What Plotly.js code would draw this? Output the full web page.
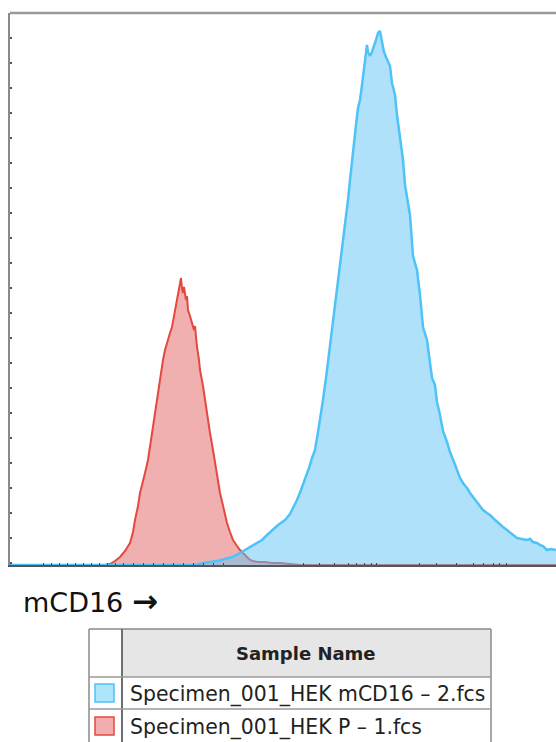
<!DOCTYPE html>
<html>
<head>
<meta charset="utf-8">
<script src="https://cdn.plot.ly/plotly-3.0.1.min.js"></script>
<style>
html,body{margin:0;padding:0;background:#fff;}
#chart{width:556px;height:742px;}
</style>
</head>
<body>
<div id="chart"></div>
<script>
// ---- data (channel units, counts) ----
const seriesNames = ["Specimen_001_HEK mCD16 – 2.fcs", "Specimen_001_HEK P – 1.fcs"];
const tableHeader = "Sample Name";
const axisLabel = "mCD16";
const axisArrow = "→";

const redX = [0,95,100,105,110,115,120,123,125,128,130,133,135,138,140,143,146,148,151,153,155,157,160,162,164,165,167,168,170,171,172,173,174,175,176,177,178,180,182,184,185,186,187,189,190,193,195,198,200,203,205,208,210,214,217,220,223,227,230,234,237,240,243,248,255,262,270,280,290,546];
const redY = [0,0,1,4,8,14,22,33,45,59,72,83,92,105,118,142,157,172,190,205,215,223,232,238,249,255,265,272,281,287,277,272,278,269,265,269,255,249,243,235,239,227,218,205,195,179,165,147,132,115,102,85,72,55,42,33,25,19,15,11,8,5,4,3,3,2,2,1,0,0];

const blueX = [0,185,193,200,207,215,222,230,235,240,245,252,257,262,268,275,280,284,287,291,295,299,302,305,308,311,313,316,318,320,323,326,329,332,335,338,340,343,346,348,350,352,354,356,357,358,360,362,364,366,368,370,372,374,376,378,380,382,385,387,390,393,395,397,400,403,407,410,413,417,420,422,425,427,430,433,437,440,444,447,450,453,457,460,465,469,473,477,480,484,487,490,493,497,502,507,512,517,520,523,527,530,533,537,541,546];
const blueY = [0,0,2,3,4,6,8,12,15,18,21,25,30,35,40,45,51,59,65,75,85,97,107,115,133,150,165,187,203,215,240,265,290,315,340,365,385,415,440,457,465,480,495,510,520,513,509,513,518,525,532,534,523,513,508,503,499,482,470,450,425,405,380,366,350,309,295,270,238,225,205,187,180,163,150,134,123,113,103,95,87,82,77,72,65,60,55,52,50,46,43,40,38,35,31,27,26,25,26,23,22,20,19,15,16,15];

const yTick0 = 2, yDtick = 25;
const xMinorTicks = [33,41,49,57,65,73,81,89,97,105,113,123,133,143,153,163,173,183,193,203,213,293,309,324,338,346,354,361,366,409,426,446,463,473,483,489,496];

// ---- geometry helpers (pixel -> paper) ----
const L = 10, R = 556, T = 13, B = 565;
const W = 742;
const px = x => (x - L) / (R - L);
const py = y => (B - y) / (B - T);

const red = {
  x: redX, y: redY, type: 'scatter', mode: 'lines', name: seriesNames[1],
  fill: 'tozeroy', fillcolor: 'rgba(225,80,80,0.45)',
  line: {color: '#E5483F', width: 2}, hoverinfo: 'skip'
};
const blue = {
  x: blueX, y: blueY, type: 'scatter', mode: 'lines', name: seriesNames[0],
  fill: 'tozeroy', fillcolor: 'rgba(95,198,245,0.5)',
  line: {color: '#4FC3F7', width: 2.5}, hoverinfo: 'skip'
};

const shapes = [
  // top border
  {type:'line', xref:'paper', yref:'paper', x0:0, x1:1.02, y0:1, y1:1, line:{color:'#9a9a9a', width:2.5}},
  // table
  {type:'rect', xref:'paper', yref:'paper', x0:px(122), x1:px(491), y0:py(677), y1:py(629), fillcolor:'#E6E6E6', line:{width:0}, layer:'below'},
  {type:'line', xref:'paper', yref:'paper', x0:px(89), x1:px(491), y0:py(629), y1:py(629), line:{color:'#8a8a8a', width:1.5}},
  {type:'line', xref:'paper', yref:'paper', x0:px(89), x1:px(89), y0:py(629), y1:py(745), line:{color:'#8a8a8a', width:1.5}},
  {type:'line', xref:'paper', yref:'paper', x0:px(491), x1:px(491), y0:py(629), y1:py(745), line:{color:'#8a8a8a', width:1.5}},
  {type:'line', xref:'paper', yref:'paper', x0:px(122), x1:px(122), y0:py(629), y1:py(745), line:{color:'#6f6f6f', width:2}},
  {type:'line', xref:'paper', yref:'paper', x0:px(89), x1:px(491), y0:py(677), y1:py(677), line:{color:'#9a9a9a', width:1.5}},
  {type:'line', xref:'paper', yref:'paper', x0:px(89), x1:px(491), y0:py(709), y1:py(709), line:{color:'#9a9a9a', width:1.5}},
  // swatches
  {type:'rect', xref:'paper', yref:'paper', x0:px(95), x1:px(114), y0:py(702), y1:py(684), fillcolor:'#ADE6FA', line:{color:'#4CC3F5', width:1.5}},
  {type:'rect', xref:'paper', yref:'paper', x0:px(95), x1:px(114), y0:py(735), y1:py(717), fillcolor:'#F2AEAE', line:{color:'#E5483F', width:1.5}}
];

const annotations = [
  {xref:'paper', yref:'paper', x:px(21), y:py(601), xanchor:'left', yanchor:'middle', showarrow:false,
   text:axisLabel + ' <b><span style="font-size:31px">' + axisArrow + '</span></b>',
   font:{family:'DejaVu Sans, sans-serif', size:27, color:'#111'}},
  {xref:'paper', yref:'paper', x:px(306), y:py(653), xanchor:'center', yanchor:'middle', showarrow:false,
   text:'<b>'+tableHeader+'</b>', font:{family:'DejaVu Sans, sans-serif', size:18, color:'#222'}},
  {xref:'paper', yref:'paper', x:px(128), y:py(694), xanchor:'left', yanchor:'middle', showarrow:false,
   text:seriesNames[0], font:{family:'DejaVu Sans, sans-serif', size:20.4, color:'#222'}},
  {xref:'paper', yref:'paper', x:px(128), y:py(727), xanchor:'left', yanchor:'middle', showarrow:false,
   text:seriesNames[1], font:{family:'DejaVu Sans, sans-serif', size:20.4, color:'#222'}}
];

const layout = {
  width: 556, height: W,
  margin: {l: L, r: 0, t: T, b: W - B, pad: 0},
  paper_bgcolor: '#fff', plot_bgcolor: '#fff',
  showlegend: false,
  xaxis: {
    range: [0, R - L], showgrid: false, zeroline: false, showticklabels: false,
    showline: true, linecolor: '#555', linewidth: 1.5,
    tickmode: 'array', tickvals: xMinorTicks, ticks: 'inside', ticklen: 2, tickwidth: 1, tickcolor: '#444',
    fixedrange: true
  },
  yaxis: {
    range: [0, B - T], showgrid: false, zeroline: false, showticklabels: false,
    showline: true, linecolor: '#8a8a8a', linewidth: 2,
    tick0: yTick0, dtick: yDtick, ticks: 'inside', ticklen: 2, tickwidth: 1.5, tickcolor: '#555',
    fixedrange: true
  },
  shapes: shapes,
  annotations: annotations
};

Plotly.newPlot('chart', [red, blue], layout, {displayModeBar: false, staticPlot: true});
</script>
</body>
</html>
